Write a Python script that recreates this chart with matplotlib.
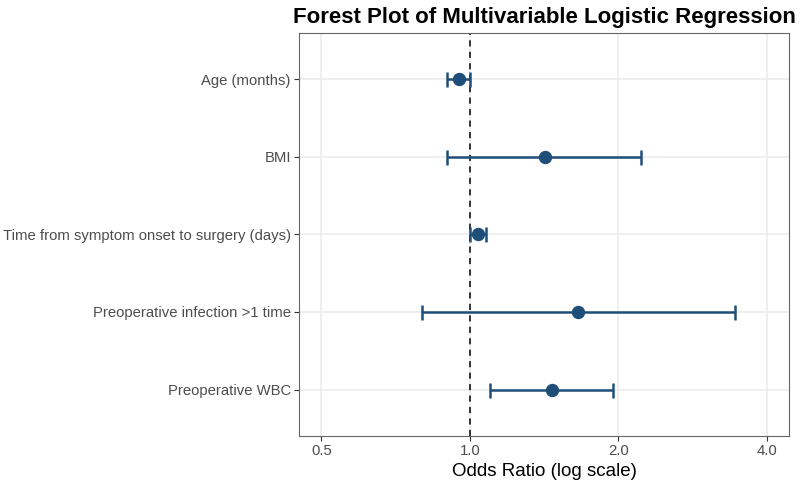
import numpy as np
import matplotlib
matplotlib.use("Agg")
import matplotlib.pyplot as plt
from matplotlib.ticker import FixedLocator, FixedFormatter, NullLocator

plt.rcParams["font.family"] = ["Liberation Sans", "DejaVu Sans"]

# values
labels = ["Age (months)", "BMI", "Time from symptom onset to surgery (days)",
          "Preoperative infection >1 time", "Preoperative WBC"]
odds   = [0.95, 1.42, 1.04, 1.66, 1.47]
ci_lo  = [0.90, 0.90, 1.00, 0.80, 1.10]
ci_hi  = [1.00, 2.23, 1.08, 3.45, 1.95]
x_ticks = [0.5, 1.0, 2.0, 4.0]

BLUE = "#1F4E79"

fig = plt.figure(figsize=(8, 4.83), dpi=100)
ax = fig.add_axes([0.374, 0.0973, 0.612, 0.8344])

ypos = np.arange(len(labels))[::-1] + 1   # top-to-bottom
odds = np.array(odds); lo = np.array(ci_lo); hi = np.array(ci_hi)

ax.set_xscale("log", base=2)
for v in x_ticks:
    ax.axvline(v, color="#EBEBEB", lw=1.1, zorder=0)
for y in ypos:
    ax.axhline(y, color="#EBEBEB", lw=1.1, zorder=0)

ax.axvline(1.0, color="black", lw=1.1, ls=(0, (4, 3.5)), zorder=1)
ax.errorbar(odds, ypos, xerr=[odds - lo, hi - odds], fmt="none",
            ecolor=BLUE, elinewidth=1.8, capsize=5.4, capthick=1.8, zorder=2)
ax.plot(odds, ypos, "o", color=BLUE, ms=8.6, zorder=3)

# ggplot-like 5% expansion on log limits 0.5..4
l0, l1 = np.log2(0.5), np.log2(4.0)
pad = 0.05 * (l1 - l0)
ax.set_xlim(2 ** (l0 - pad), 2 ** (l1 + pad))
ax.set_ylim(0.4, len(labels) + 0.6)

ax.xaxis.set_major_locator(FixedLocator(x_ticks))
ax.xaxis.set_major_formatter(FixedFormatter([f"{v:.1f}" for v in x_ticks]))
ax.xaxis.set_minor_locator(NullLocator())
ax.set_yticks(ypos)
ax.set_yticklabels(labels)

ax.tick_params(axis="both", length=3.5, width=0.8, color="#333333",
               labelcolor="#4D4D4D", labelsize=10.7, pad=2.5)
for s in ax.spines.values():
    s.set_color("#666666")
    s.set_linewidth(0.8)

ax.set_xlabel("Odds Ratio (log scale)", fontsize=13.5, color="black", labelpad=3)
ax.set_title("Forest Plot of Multivariable Logistic Regression",
             fontsize=16, fontweight="bold", pad=7)

fig.savefig("out.png", dpi=100)
